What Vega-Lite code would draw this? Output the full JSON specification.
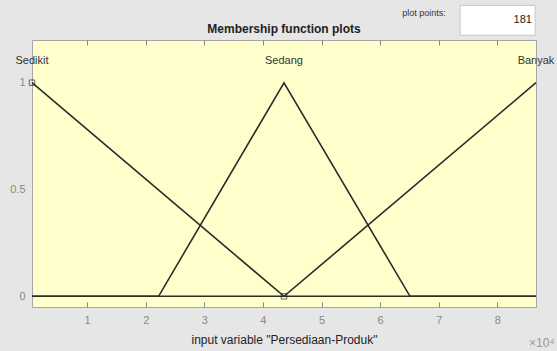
{
  "$schema": "https://vega.github.io/schema/vega-lite/v6.json",
  "width": 504,
  "height": 267,
  "autosize": {"type": "none"},
  "padding": {"left": 32, "top": 40, "right": 21, "bottom": 44},
  "background": "#e6e6e6",
  "config": {
    "font": "Liberation Sans",
    "view": {"fill": "#ffffcc", "stroke": "#a6a6a6", "strokeWidth": 1}
  },
  "resolve": {"axis": {"x": "independent"}},
  "datasets": {
    "mf": [
      {"mf": "Sedikit", "x": 600, "y": 1, "i": 1},
      {"mf": "Sedikit", "x": 43600, "y": 0, "i": 2},
      {"mf": "Sedikit", "x": 86600, "y": 0, "i": 3},
      {"mf": "Sedang", "x": 600, "y": 0, "i": 1},
      {"mf": "Sedang", "x": 22200, "y": 0, "i": 2},
      {"mf": "Sedang", "x": 43600, "y": 1, "i": 3},
      {"mf": "Sedang", "x": 65100, "y": 0, "i": 4},
      {"mf": "Sedang", "x": 86600, "y": 0, "i": 5},
      {"mf": "Banyak", "x": 600, "y": 0, "i": 1},
      {"mf": "Banyak", "x": 43600, "y": 0, "i": 2},
      {"mf": "Banyak", "x": 86600, "y": 1, "i": 3}
    ],
    "labels": [
      {"mf": "Sedikit", "x": 600, "y": 1.1},
      {"mf": "Sedang", "x": 43600, "y": 1.1},
      {"mf": "Banyak", "x": 86600, "y": 1.1}
    ],
    "markers": [
      {"x": 600, "y": 1},
      {"x": 43600, "y": 0}
    ]
  },
  "layer": [
    {
      "data": {"name": "mf"},
      "mark": {"type": "line", "color": "#2b2b2b", "strokeWidth": 1.6, "clip": false},
      "encoding": {
        "x": {
          "field": "x", "type": "quantitative",
          "scale": {"domain": [600, 86600], "nice": false, "zero": false},
          "axis": {
            "values": [10000, 20000, 30000, 40000, 50000, 60000, 70000, 80000],
            "labelExpr": "datum.value/10000",
            "grid": false,
            "domain": false,
            "tickSize": -5,
            "tickColor": "#888888",
            "labelColor": "#888888",
            "labelFontSize": 11,
            "labelPadding": 12,
            "title": "input variable \"Persediaan-Produk\"",
            "titleFontSize": 12,
            "titleFontWeight": "normal",
            "titleColor": "#222222",
            "titlePadding": 9
          }
        },
        "y": {
          "field": "y", "type": "quantitative",
          "scale": {"domain": [-0.05, 1.2], "nice": false, "zero": false},
          "axis": {
            "values": [0, 0.5, 1],
            "format": "~g",
            "grid": false,
            "domain": false,
            "ticks": false,
            "labelColor": "#888888",
            "labelFontSize": 11,
            "labelPadding": 7,
            "title": null
          }
        },
        "detail": {"field": "mf"},
        "order": {"field": "i"}
      }
    },
    {
      "data": {"name": "markers"},
      "mark": {"type": "point", "shape": "square", "size": 30, "filled": false, "color": "#2b2b2b", "strokeWidth": 1, "clip": false},
      "encoding": {
        "x": {
          "field": "x", "type": "quantitative",
          "axis": {
            "orient": "top",
            "values": [10000, 20000, 30000, 40000, 50000, 60000, 70000, 80000],
            "labels": false,
            "grid": false,
            "domain": false,
            "tickSize": -5,
            "tickColor": "#888888",
            "title": null
          }
        },
        "y": {"field": "y", "type": "quantitative"}
      }
    },
    {
      "data": {"name": "labels"},
      "mark": {"type": "text", "fontSize": 11, "color": "#333333", "align": "center", "baseline": "middle", "clip": false},
      "encoding": {
        "x": {"field": "x", "type": "quantitative", "axis": null},
        "y": {"field": "y", "type": "quantitative"},
        "text": {"field": "mf"}
      }
    },
    {
      "data": {"values": [{}]},
      "mark": {"type": "text", "fontSize": 12, "fontWeight": "bold", "color": "#222222", "align": "center", "baseline": "middle", "clip": false, "text": "Membership function plots"},
      "encoding": {
        "x": {"datum": 43600, "type": "quantitative", "axis": null},
        "y": {"datum": 1.252, "type": "quantitative"}
      }
    },
    {
      "data": {"values": [{}]},
      "mark": {"type": "rect", "fill": "#ffffff", "stroke": "#c8c8c8", "strokeWidth": 1, "clip": false},
      "encoding": {
        "x": {"datum": 73650, "type": "quantitative", "axis": null},
        "x2": {"datum": 86450},
        "y": {"datum": 1.362, "type": "quantitative"},
        "y2": {"datum": 1.222}
      }
    },
    {
      "data": {"values": [{}]},
      "mark": {"type": "text", "fontSize": 11, "color": "#222222", "align": "right", "baseline": "middle", "clip": false, "text": "181"},
      "encoding": {
        "x": {"datum": 85900, "type": "quantitative", "axis": null},
        "y": {"datum": 1.295, "type": "quantitative"}
      }
    },
    {
      "data": {"values": [{}]},
      "mark": {"type": "text", "fontSize": 9, "color": "#333333", "align": "center", "baseline": "middle", "clip": false, "text": "plot points:"},
      "encoding": {
        "x": {"datum": 67500, "type": "quantitative", "axis": null},
        "y": {"datum": 1.325, "type": "quantitative"}
      }
    },
    {
      "data": {"values": [{}]},
      "mark": {"type": "text", "fontSize": 12, "color": "#999999", "align": "center", "baseline": "middle", "clip": false, "text": "×10⁴"},
      "encoding": {
        "x": {"datum": 87600, "type": "quantitative", "axis": null},
        "y": {"datum": -0.22, "type": "quantitative"}
      }
    }
  ]
}
